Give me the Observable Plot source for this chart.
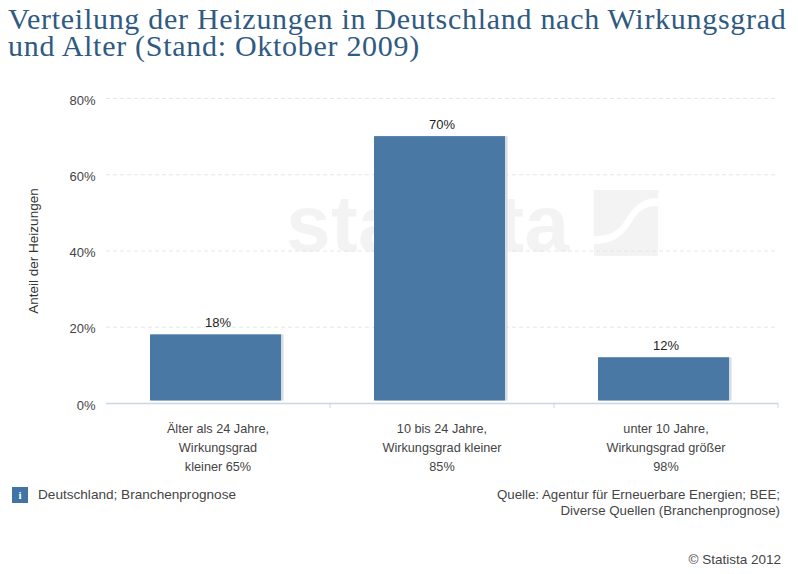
<!DOCTYPE html>
<html lang="de">
<head>
<meta charset="utf-8">
<script src="https://cdn.jsdelivr.net/npm/d3@7"></script>
<script src="https://cdn.jsdelivr.net/npm/@observablehq/plot@0.6"></script>
<style>
  html, body { margin: 0; padding: 0; background: #fff; }
  #page { position: relative; width: 798px; height: 574px; overflow: hidden; font-family: "Liberation Sans", Arial, sans-serif; color: #444; }
  #title { position: absolute; left: 8px; top: 5px; width: 788px; margin: 0; font: normal 30px/27px "Liberation Serif", serif; letter-spacing: .71px; color: #2f5a82; white-space: pre-line; }
  #wm { position: absolute; left: 286px; top: 178px; font: bold 80px/92px "Liberation Sans", sans-serif; color: #f3f3f3; letter-spacing: .4px; }
  #logo { position: absolute; left: 592px; top: 190px; }
  #chart { position: absolute; left: 0; top: 70px; }
  .note { position: absolute; font-size: 13.5px; line-height: 16px; color: #444; }
  #icon { position: absolute; left: 12px; top: 487px; width: 16px; height: 16px; background: #3f74a5; color: #fff; font: bold 11px/16px "Liberation Serif", serif; text-align: center; }
</style>
</head>
<body>
<div id="page">
  <h1 id="title"></h1>
  <div id="wm">statista</div>
  <svg id="logo" width="68" height="66" viewBox="0 0 72 66" preserveAspectRatio="none"><path fill="#f3f3f3" d="M2 0H70V8C50 8 42 20 34 32 27 42 18 46 2 46ZM70 16V66H2V54C24 54 34 44 42 32 50 20 56 16 70 16Z"/></svg>
  <div id="chart"></div>
  <div id="icon">i</div>
  <div class="note" id="region" style="left:38px;top:487px;font-size:13.6px"></div>
  <div class="note" id="source" style="right:18px;top:487px;text-align:right;white-space:pre-line;font-size:13.3px"></div>
  <div class="note" id="copy" style="right:17px;top:552px"></div>
</div>
<script>
const titleText = "Verteilung der Heizungen in Deutschland nach Wirkungsgrad\nund Alter (Stand: Oktober 2009)";
const categories = ["Älter als 24 Jahre,\nWirkungsgrad\nkleiner 65%", "10 bis 24 Jahre,\nWirkungsgrad kleiner\n85%", "unter 10 Jahre,\nWirkungsgrad größer\n98%"];
const values = [18, 70, 12];
const yTicks = [0, 20, 40, 60, 80];
const yLabel = "Anteil der Heizungen";
const regionText = "Deutschland; Branchenprognose";
const sourceText = "Quelle: Agentur für Erneuerbare Energien; BEE;\nDiverse Quellen (Branchenprognose)";
const copyText = "© Statista 2012";

document.getElementById("title").textContent = titleText;
document.getElementById("region").textContent = regionText;
document.getElementById("source").textContent = sourceText;
document.getElementById("copy").textContent = copyText;

const rows = categories.map((c, i) => ({category: c, value: values[i], label: values[i] + "%"}));
const barOpts = {x: "category", y: "value", insetBottom: 2.5};

const chart = Plot.plot({
  width: 798,
  height: 410,
  marginTop: 28,
  marginBottom: 77,
  marginLeft: 106,
  marginRight: 20,
  style: {background: "transparent", fontFamily: "'Liberation Sans', Arial, sans-serif", fontSize: "12px", color: "#444"},
  x: {domain: categories, paddingInner: 0.415, paddingOuter: 0.2075, label: null},
  y: {domain: [0, 80], label: null},
  marks: [
    Plot.ruleY(yTicks.filter(d => d > 0), {y: d => d, stroke: "#e6e6e6", strokeDasharray: "4,3"}),
    Plot.barY(rows, {...barOpts, fill: "#d5dce2", dx: 0.5}),
    Plot.barY(rows, {...barOpts, fill: "#4a78a5", dx: -2}),
    Plot.ruleY([0], {stroke: "#c6d8e6", strokeWidth: 1.5}),
    Plot.axisX({domain: categories, anchor: "bottom", tickSize: 5, tickFormat: null, stroke: "#c6d8e6", dx: 112, label: null}),
    Plot.axisX({anchor: "bottom", tickSize: 0, tickPadding: 16, lineHeight: 1.5, lineAnchor: "top", fontSize: 12.7, fill: "#444", label: null}),
    Plot.axisY({ticks: yTicks, tickSize: 0, tickPadding: 11, tickFormat: d => d + "%", dy: 2, fontSize: 13, fill: "#444", label: null}),
    Plot.text([yLabel], {text: d => d, frameAnchor: "left", textAnchor: "middle", rotate: -90, dx: -73, fontSize: 13.5, fill: "#333"}),
    Plot.text(rows, {x: "category", y: "value", text: "label", dy: -12, fontSize: 13, fill: "#222"})
  ]
});
document.getElementById("chart").appendChild(chart);
</script>
</body>
</html>
